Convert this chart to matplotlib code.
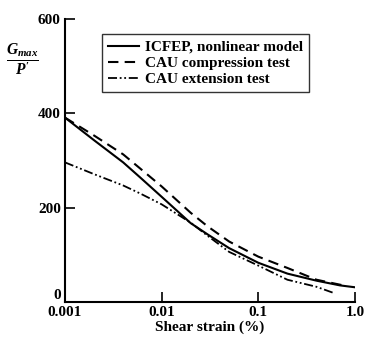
import numpy as np
import matplotlib
matplotlib.use('Agg')
import matplotlib.pyplot as plt

plt.rcParams['font.family'] = 'Liberation Serif'
plt.rcParams['font.weight'] = 'bold'
plt.rcParams['mathtext.fontset'] = 'custom'
plt.rcParams['mathtext.it'] = 'Liberation Serif:bold:italic'
plt.rcParams['mathtext.rm'] = 'Liberation Serif:bold'

# curves (shear strain in %, G_max / p')
icfep_x = [0.001, 0.002, 0.004, 0.006, 0.01, 0.02, 0.03, 0.05, 0.1, 0.2, 0.4, 0.7, 1.0]
icfep_y = [391, 343, 296, 264, 223, 167, 143, 114, 83, 60, 45, 35, 31]

comp_x = [0.001, 0.002, 0.004, 0.006, 0.01, 0.02, 0.03, 0.05, 0.1, 0.2, 0.4, 0.8]
comp_y = [391, 353, 313, 283, 245, 189, 160, 128, 96, 72, 47, 34]

ext_x = [0.001, 0.002, 0.004, 0.006, 0.01, 0.02, 0.03, 0.05, 0.1, 0.2, 0.4, 0.62]
ext_y = [296, 271, 247, 230, 207, 168, 140, 106, 77, 47, 32, 18]

labels = ['ICFEP, nonlinear model', 'CAU compression test', 'CAU extension test']
xticks = [0.001, 0.01, 0.1, 1.0]
xticklabels = ['0.001', '0.01', '0.1', '1.0']
yticks = [0, 200, 400, 600]

fig = plt.figure(figsize=(3.69, 3.47), dpi=100)
ax = fig.add_axes([0.176, 0.130, 0.786, 0.815])

ax.plot(icfep_x, icfep_y, color='black', lw=1.5, ls='-', label=labels[0])
ax.plot(comp_x, comp_y, color='black', lw=1.5, ls=(0, (5, 3)), label=labels[1])
ax.plot(ext_x, ext_y, color='black', lw=1.3, ls=(0, (5, 1.5, 1, 1.5, 1, 1.5)), label=labels[2])

ax.set_xscale('log')
ax.set_xlim(0.001, 1.0)
ax.set_ylim(0, 600)
ax.set_xticks(xticks)
ax.set_xticklabels(xticklabels)
ax.minorticks_off()
ax.set_yticks(yticks)
ax.tick_params(direction='in', length=7, width=1.2, labelsize=11, pad=3)
ax.get_yticklabels()[0].set_va('bottom')
ax.spines['top'].set_visible(False)
ax.spines['right'].set_visible(False)
ax.spines['left'].set_linewidth(1.5)
ax.spines['bottom'].set_linewidth(1.5)

ax.set_xlabel('Shear strain (%)', fontsize=11, fontweight='bold', labelpad=1)
fig.text(0.06, 0.825, r"$\frac{G_{max}}{P'}$", fontsize=16, ha='center', va='center')

leg = ax.legend(loc='upper left', bbox_to_anchor=(0.128, 0.947), borderaxespad=0,
                fontsize=11, frameon=True, fancybox=False, edgecolor='black',
                handlelength=2.0, borderpad=0.4, labelspacing=0.15, handletextpad=0.4)
leg.get_frame().set_linewidth(1.0)

fig.savefig('out.png', dpi=100)
